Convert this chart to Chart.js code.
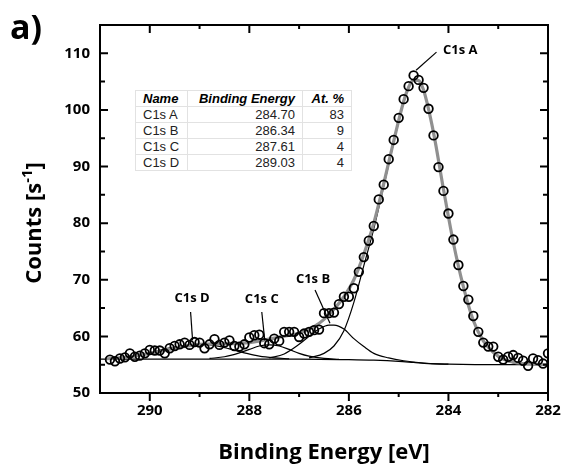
<!DOCTYPE html>
<html>
<head>
<meta charset="utf-8">
<script src="https://cdn.jsdelivr.net/npm/chart.js@4"></script>
<style>
    body {
        margin: 0;
        background: #ffffff;
    }

    #wrap {
        position: relative;
        width: 564px;
        height: 466px;
        overflow: hidden;
    }

    #panelLabel {
        position: absolute;
        left: 10px;
        top: 6px;
        font-family: "Open Sans", sans-serif;
        font-weight: bold;
        font-size: 34px;
        line-height: 40px;
        color: #000000;
    }

    #peakTable {
        position: absolute;
        left: 135px;
        top: 90px;
        border-collapse: collapse;
        background: #ffffff;
        font-family: "Liberation Sans", Arial, sans-serif;
        font-size: 13px;
        color: #222222;
    }

    #peakTable td,
    #peakTable th {
        border: 1px solid #e2e2e2;
        height: 15px;
        padding: 0 7px 0 7px;
        line-height: 15px;
        white-space: nowrap;
    }

    #peakTable th {
        font-weight: bold;
        font-style: italic;
        color: #000000;
        text-align: right;
    }

    #peakTable th:first-child,
    #peakTable td:first-child {
        text-align: left;
        width: 37px;
    }

    #peakTable td {
        text-align: right;
    }

    #peakTable .energy {
        width: 100px;
    }

    #peakTable .percent {
        width: 34px;
    }
</style>
</head>
<body>
<div id="wrap">
    <canvas id="xpsChart" width="564" height="466"></canvas>
    <div id="panelLabel">a)</div>
    <table id="peakTable"></table>
</div>

<script>
// measured spectrum, 0.1 eV steps
const energies = [
    290.8, 290.7, 290.6, 290.5, 290.4, 290.3, 290.2, 290.1, 290.0, 289.9,
    289.8, 289.7, 289.6, 289.5, 289.4, 289.3, 289.2, 289.1, 289.0, 288.9,
    288.8, 288.7, 288.6, 288.5, 288.4, 288.3, 288.2, 288.1, 288.0, 287.9,
    287.8, 287.7, 287.6, 287.5, 287.4, 287.3, 287.2, 287.1, 287.0, 286.9,
    286.8, 286.7, 286.6, 286.5, 286.4, 286.3, 286.2, 286.1, 286.0, 285.9,
    285.8, 285.7, 285.6, 285.5, 285.4, 285.3, 285.2, 285.1, 285.0, 284.9,
    284.8, 284.7, 284.6, 284.5, 284.4, 284.3, 284.2, 284.1, 284.0, 283.9,
    283.8, 283.7, 283.6, 283.5, 283.4, 283.3, 283.2, 283.1, 283.0, 282.9,
    282.8, 282.7, 282.6, 282.5, 282.4, 282.3, 282.2, 282.1, 282.0
];

const counts = [
    55.9, 55.6, 56.1, 56.3, 57.0, 56.4, 56.6, 57.0, 57.6, 57.5,
    57.5, 57.0, 57.9, 58.3, 58.6, 58.9, 58.5, 59.0, 58.9, 57.9,
    58.6, 59.5, 58.5, 58.9, 59.3, 58.3, 58.2, 58.6, 59.8, 60.2,
    60.3, 58.8, 58.6, 59.6, 59.2, 60.8, 60.8, 60.8, 59.9, 60.5,
    60.8, 61.1, 61.2, 64.1, 64.1, 64.2, 65.7, 67.0, 67.0, 68.5,
    71.4, 74.0, 76.9, 79.5, 84.2, 86.8, 91.3, 94.7, 98.6, 101.9,
    104.2, 106.1, 105.3, 103.9, 100.2, 95.5, 89.9, 85.7, 81.7, 77.1,
    72.6, 68.9, 66.5, 63.6, 60.8, 58.9, 58.2, 58.2, 56.4, 55.9,
    56.4, 56.7, 56.2, 55.7, 54.8, 56.1, 55.8, 55.2, 57.0
];

// fitted envelope
const envelopeEnergies = [
    290.9, 290.5, 290.0, 289.5, 289.0, 288.5, 288.0, 287.5, 287.0, 286.7,
    286.5, 286.3, 286.1, 285.9, 285.7, 285.5, 285.3, 285.1, 284.9, 284.8,
    284.7, 284.6, 284.5, 284.3, 284.1, 283.9, 283.7, 283.5, 283.3, 283.1,
    282.9, 282.6, 282.3, 282.0
];

const envelopeCounts = [
    56.0, 56.3, 57.0, 57.9, 58.6, 58.7, 58.9, 59.7, 60.6, 61.7,
    63.0, 64.8, 67.0, 70.0, 74.5, 80.0, 87.0, 94.5, 101.5, 104.0,
    105.3, 105.2, 103.5, 96.0, 86.0, 76.5, 68.8, 62.8, 59.2, 57.2,
    56.0, 55.3, 55.1, 55.0
];

// background
const backgroundEnergies = [291.0, 288.0, 287.0, 286.0, 285.5, 285.0, 284.7, 284.4, 284.0, 283.0, 282.0];
const backgroundCounts = [56.0, 56.0, 56.0, 55.9, 55.8, 55.6, 55.4, 55.2, 55.1, 55.0, 55.0];

// component peaks
const peakAEnergies = [
    286.8, 286.5, 286.3, 286.1, 285.9, 285.7, 285.5, 285.3, 285.1, 284.9,
    284.8, 284.7, 284.6, 284.5, 284.3, 284.1, 283.9, 283.7, 283.5, 283.3,
    283.1, 282.9, 282.6, 282.3, 282.0
];
const peakACounts = [
    56.2, 57.0, 58.3, 61.0, 66.0, 72.5, 79.0, 86.5, 94.2, 101.3,
    103.9, 105.2, 105.1, 103.4, 95.9, 85.9, 76.4, 68.7, 62.7, 59.1,
    57.1, 55.9, 55.2, 55.05, 55.0
];

const peakBEnergies = [287.6, 287.3, 287.0, 286.8, 286.6, 286.4, 286.3, 286.1, 285.9, 285.7, 285.5, 285.2, 284.9, 284.5, 284.0];
const peakBCounts = [56.2, 56.9, 58.6, 60.0, 61.3, 62.0, 62.0, 61.3, 59.6, 58.2, 57.0, 56.2, 55.7, 55.3, 55.1];

const peakCEnergies = [288.8, 288.5, 288.2, 288.0, 287.8, 287.6, 287.4, 287.2, 287.0, 286.8, 286.5, 286.2];
const peakCCounts = [56.1, 56.4, 57.1, 57.7, 58.3, 58.5, 58.3, 57.7, 57.0, 56.5, 56.1, 55.95];

const peakDEnergies = [290.6, 290.3, 290.0, 289.7, 289.4, 289.0, 288.7, 288.4, 288.1, 287.8, 287.5, 287.2];
const peakDCounts = [56.2, 56.6, 57.1, 57.8, 58.3, 58.6, 58.4, 57.8, 57.1, 56.5, 56.2, 56.05];

// table
const peakNames = ["C1s A", "C1s B", "C1s C", "C1s D"];
const peakBindingEnergies = [284.70, 286.34, 287.61, 289.03];
const atomicPercent = [83, 9, 4, 4];

// axis ticks
const xTicks = [290, 288, 286, 284, 282];
const xMinorTicks = [289, 287, 285, 283];
const yTicks = [50, 60, 70, 80, 90, 100, 110];
const yMinorTicks = [55, 65, 75, 85, 95, 105];

// callouts, in data units
const callouts = [
    { text: "C1s A", align: "left", tx: 284.11, ty: 110.5, x1: 284.65, y1: 107.0, x2: 284.24, y2: 110.2 },
    { text: "C1s B", align: "center", tx: 286.72, ty: 70.1, x1: 286.68, y1: 68.2, x2: 286.38, y2: 62.3 },
    { text: "C1s C", align: "center", tx: 287.75, ty: 66.6, x1: 287.75, y1: 64.3, x2: 287.69, y2: 59.3 },
    { text: "C1s D", align: "center", tx: 289.15, ty: 66.8, x1: 289.18, y1: 64.3, x2: 289.14, y2: 59.3 }
];

function toPoints(xs, ys) {

    return xs.map(
        (x, i) => ({ x: x, y: ys[i] })
    );

}

function buildTable() {

    const table =
        document.getElementById(
            "peakTable"
        );

    let html =
        "<tr><th>Name</th><th class=\"energy\">Binding Energy</th><th class=\"percent\">At. %</th></tr>";

    peakNames.forEach((name, i) => {

        html +=
            "<tr><td>" + name +
            "</td><td>" + peakBindingEnergies[i].toFixed(2) +
            "</td><td>" + atomicPercent[i] +
            "</td></tr>";

    });

    table.innerHTML = html;

}

const decorations = {

    id: "decorations",

    afterDatasetsDraw(chart) {

        const ctx = chart.ctx;
        const xs = chart.scales.x;
        const ys = chart.scales.y;

        ctx.save();

        ctx.strokeStyle = "#000000";
        ctx.lineWidth = 1.2;
        ctx.fillStyle = "#000000";
        ctx.font = "bold 13px 'Open Sans'";
        ctx.textBaseline = "middle";

        callouts.forEach(c => {

            ctx.beginPath();
            ctx.moveTo(xs.getPixelForValue(c.x1), ys.getPixelForValue(c.y1));
            ctx.lineTo(xs.getPixelForValue(c.x2), ys.getPixelForValue(c.y2));
            ctx.stroke();

            ctx.textAlign = c.align;
            ctx.fillText(
                c.text,
                xs.getPixelForValue(c.tx),
                ys.getPixelForValue(c.ty)
            );

        });

        ctx.restore();

    },

    afterDraw(chart) {

        const ctx = chart.ctx;
        const area = chart.chartArea;
        const xs = chart.scales.x;
        const ys = chart.scales.y;

        ctx.save();

        ctx.strokeStyle = "#000000";
        ctx.lineWidth = 2;

        ctx.strokeRect(
            area.left,
            area.top,
            area.right - area.left,
            area.bottom - area.top
        );

        function xTick(value, len) {

            const px = xs.getPixelForValue(value);

            ctx.beginPath();
            ctx.moveTo(px, area.bottom);
            ctx.lineTo(px, area.bottom + len);
            ctx.moveTo(px, area.top);
            ctx.lineTo(px, area.top + len);
            ctx.stroke();

        }

        function yTick(value, len) {

            const py = ys.getPixelForValue(value);

            ctx.beginPath();
            ctx.moveTo(area.left, py);
            ctx.lineTo(area.left + len, py);
            ctx.moveTo(area.right, py);
            ctx.lineTo(area.right - len, py);
            ctx.stroke();

        }

        xTicks.forEach(v => xTick(v, 8));
        xMinorTicks.forEach(v => xTick(v, 4));
        yTicks.forEach(v => yTick(v, 8));
        yMinorTicks.forEach(v => yTick(v, 5));

        // axis titles
        ctx.fillStyle = "#000000";
        ctx.textBaseline = "alphabetic";

        ctx.font = "bold 22px 'Open Sans'";
        ctx.textAlign = "center";
        ctx.fillText(
            "Binding Energy [eV]",
            (area.left + area.right) / 2,
            459
        );

        const partA = "Counts [s";
        const partB = "-1";
        const partC = "]";

        const wA = ctx.measureText(partA).width;
        const wC = ctx.measureText(partC).width;
        ctx.font = "bold 15px 'Open Sans'";
        const wB = ctx.measureText(partB).width;
        const total = wA + wB + wC;

        ctx.translate(41, (area.top + area.bottom) / 2 + 14);
        ctx.rotate(-Math.PI / 2);
        ctx.textAlign = "left";

        ctx.font = "bold 22px 'Open Sans'";
        ctx.fillText(partA, -total / 2, 0);
        ctx.font = "bold 15px 'Open Sans'";
        ctx.fillText(partB, -total / 2 + wA, -9);
        ctx.font = "bold 22px 'Open Sans'";
        ctx.fillText(partC, -total / 2 + wA + wB, 0);

        ctx.restore();

    }

};

function lineSet(xs, ys, color, width) {

    return {
        data: toPoints(xs, ys),
        borderColor: color,
        borderWidth: width,
        pointRadius: 0,
        fill: false,
        cubicInterpolationMode: "monotone"
    };

}

function renderChart() {

    const ctx =
        document.getElementById(
            "xpsChart"
        );

    new Chart(ctx, {

        type: "line",

        data: {

            datasets: [
                {
                    data: toPoints(energies, counts),
                    showLine: false,
                    pointRadius: 4.3,
                    pointBorderWidth: 1.8,
                    pointBorderColor: "#000000",
                    pointBackgroundColor: "rgba(255,255,255,0)"
                },
                lineSet(envelopeEnergies, envelopeCounts, "#909090", 3.2),
                lineSet(peakAEnergies, peakACounts, "#000000", 1.2),
                lineSet(peakBEnergies, peakBCounts, "#000000", 1.2),
                lineSet(peakCEnergies, peakCCounts, "#000000", 1.2),
                lineSet(peakDEnergies, peakDCounts, "#000000", 1.2),
                lineSet(backgroundEnergies, backgroundCounts, "#000000", 1.2)
            ]

        },

        options: {

            responsive: false,
            devicePixelRatio: 1,
            animation: false,

            layout: {
                padding: { left: 0, top: 25, right: 16, bottom: 0 }
            },

            plugins: {
                legend: { display: false },
                tooltip: { enabled: false }
            },

            scales: {

                x: {
                    type: "linear",
                    reverse: true,
                    min: 282,
                    max: 291,
                    grid: { display: false, drawTicks: false },
                    border: { display: false },
                    afterFit: scale => {
                        scale.height = 73;
                        scale.paddingLeft = 0;
                        scale.paddingRight = 0;
                    },
                    afterBuildTicks: scale => {
                        scale.ticks = xTicks.map(v => ({ value: v }));
                    },
                    ticks: {
                        padding: 9,
                        color: "#000000",
                        maxRotation: 0,
                        font: { family: "Open Sans", weight: "bold", size: 15 }
                    }
                },

                y: {
                    type: "linear",
                    min: 50,
                    max: 115,
                    grid: { display: false, drawTicks: false },
                    border: { display: false },
                    afterFit: scale => {
                        scale.width = 100;
                        scale.paddingTop = 0;
                        scale.paddingBottom = 0;
                    },
                    afterBuildTicks: scale => {
                        scale.ticks = yTicks.map(v => ({ value: v }));
                    },
                    ticks: {
                        padding: 10,
                        color: "#000000",
                        font: { family: "Open Sans", weight: "bold", size: 15 }
                    }
                }

            }

        },

        plugins: [decorations]

    });

}

document.addEventListener(
    "DOMContentLoaded",
    () => {
        buildTable();
        renderChart();
    }
);
</script>
</body>
</html>
